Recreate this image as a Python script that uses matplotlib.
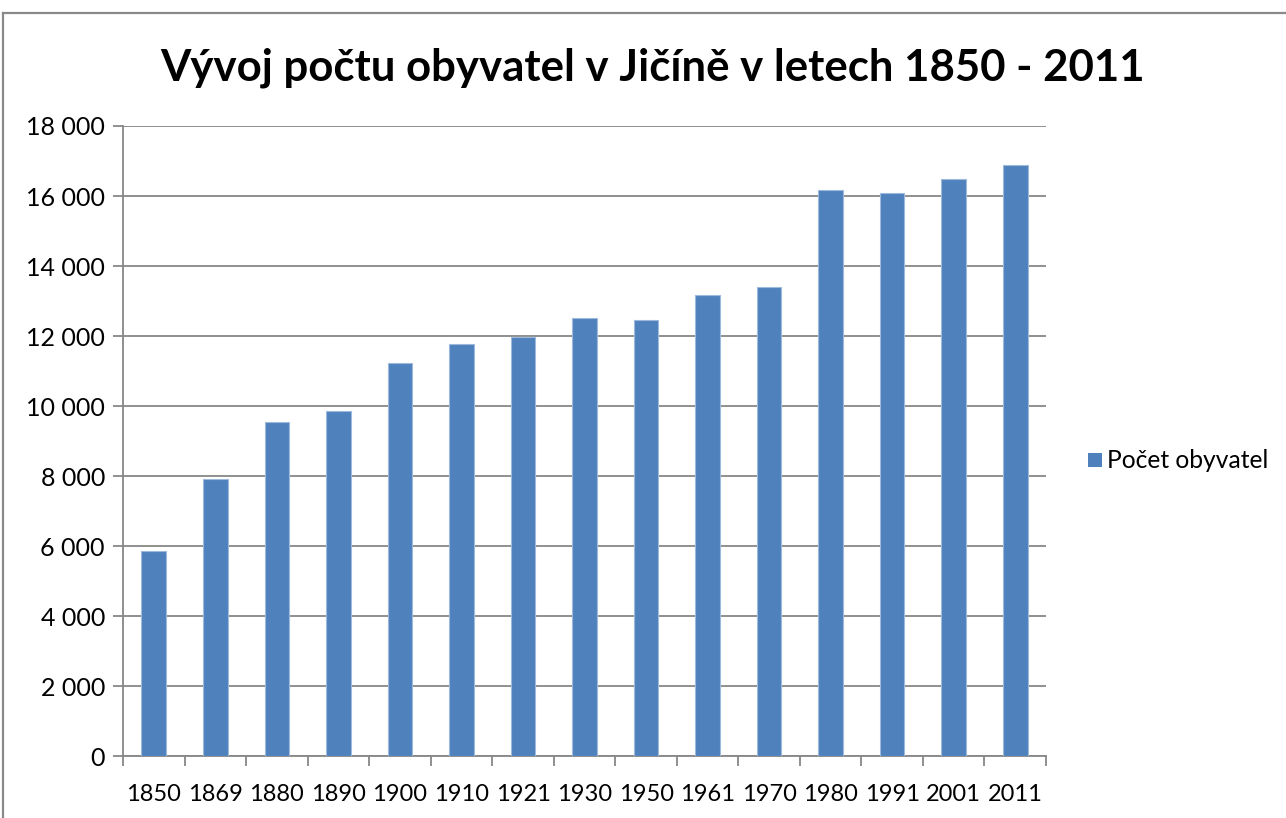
import matplotlib
matplotlib.use("Agg")
import matplotlib.pyplot as plt
from matplotlib.lines import Line2D
from matplotlib.ticker import FuncFormatter, FixedLocator

years = ["1850", "1869", "1880", "1890", "1900", "1910", "1921", "1930",
         "1950", "1961", "1970", "1980", "1991", "2001", "2011"]
population = [5850, 7926, 9536, 9849, 11223, 11772, 11963, 12504,
              12455, 13166, 13403, 16171, 16077, 16484, 16882]
y_ticks = [0, 2000, 4000, 6000, 8000, 10000, 12000, 14000, 16000, 18000]
title = "Vývoj počtu obyvatel v Jičíně v letech 1850 - 2011"
series_name = "Počet obyvatel"

plt.rcParams['font.family'] = ['Lato', 'DejaVu Sans']

W, H = 1286, 818
fig = plt.figure(figsize=(W / 100, H / 100), dpi=100)
fig.patch.set_facecolor("white")

# chart frame (left & top edges visible)
grey = "#898989"
fig.add_artist(Line2D([3 / W, 3 / W], [0, 1 - 13 / H], transform=fig.transFigure,
                      color=grey, lw=1.6))
fig.add_artist(Line2D([3 / W, 1], [1 - 13 / H, 1 - 13 / H], transform=fig.transFigure,
                      color=grey, lw=1.6))

left, right, top, bottom = 123, 1046, 126, 756
ax = fig.add_axes([left / W, 1 - bottom / H, (right - left) / W, (bottom - top) / H])

x = list(range(len(years)))
ax.bar(x, population, width=0.4, color="#4F81BD", edgecolor="#9DB9DC",
       linewidth=0.8, zorder=3, label=series_name)

ax.set_xlim(-0.5, len(years) - 0.5)
ax.set_ylim(0, 18000)
ax.set_yticks(y_ticks)
ax.yaxis.set_major_formatter(FuncFormatter(lambda v, p: f"{int(v):,}".replace(",", " ")))
ax.grid(axis="y", color="#878787", linewidth=1.3, zorder=0)

ax.set_xticks(x)
ax.set_xticklabels(years)
ax.xaxis.set_minor_locator(FixedLocator([i - 0.5 for i in range(len(years) + 1)]))
ax.tick_params(axis="x", which="major", length=0, pad=20, labelsize=17, colors="black")
ax.tick_params(axis="x", which="minor", length=7, width=1.3, color="#878787")
ax.tick_params(axis="y", length=7, width=1.3, color="#878787", labelsize=18, pad=6)

for s in ["top", "right"]:
    ax.spines[s].set_visible(False)
for s in ["left", "bottom"]:
    ax.spines[s].set_color("#878787")
    ax.spines[s].set_linewidth(1.3)

fig.text((163 + 1142) / 2 / W, 1 - 68 / H, title, ha="center", va="center",
         fontsize=31.5, fontweight="bold")

# legend
fig.patches.append(plt.Rectangle((1088 / W, 1 - 467 / H), 14 / W, 14 / H,
                                 transform=fig.transFigure, facecolor="#4F81BD",
                                 edgecolor="none"))
fig.text(1107 / W, 1 - 460 / H, series_name, ha="left", va="center", fontsize=17.7)

fig.savefig("out.png", dpi=100)
